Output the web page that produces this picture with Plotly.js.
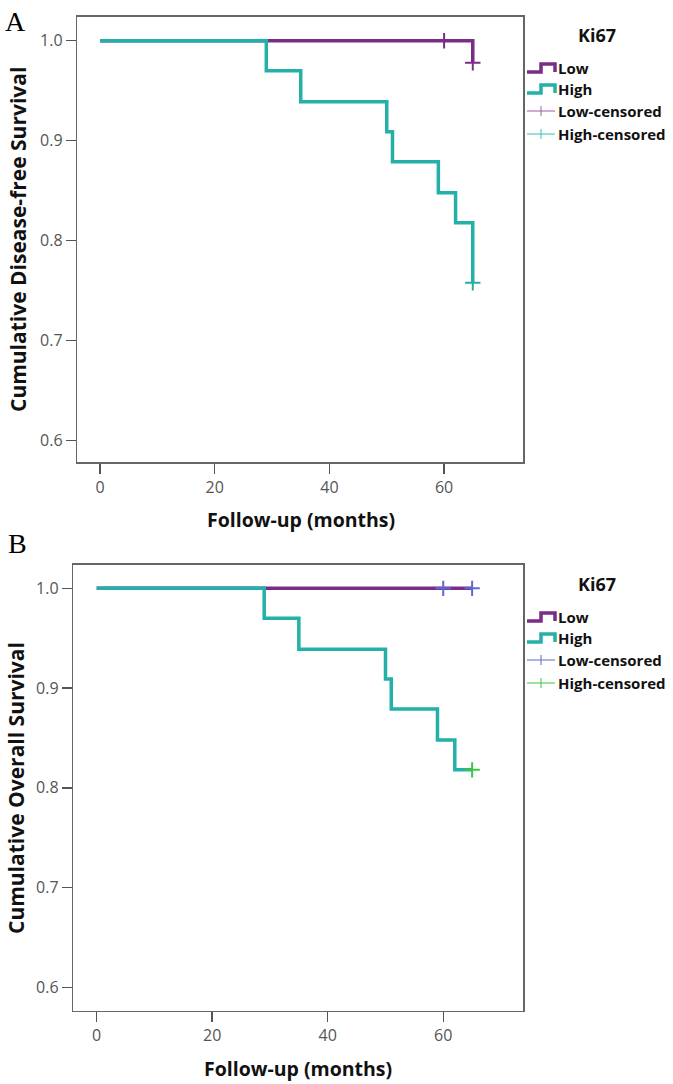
<!DOCTYPE html>
<html>
<head>
<meta charset="utf-8">
<script src="https://cdn.plot.ly/plotly-3.0.1.min.js"></script>
<style>html,body{margin:0;padding:0;background:#fff;}#chart{width:673px;height:1084px;}</style>
</head>
<body>
<div id="chart"></div>
<script>
// ---- Data ----
const groupNames = ["Low", "High"];
const legendTitle = "Ki67";
const censorNames = ["Low-censored", "High-censored"];
const xTicks = [0, 20, 40, 60];
const yTicks = [0.6, 0.7, 0.8, 0.9, 1.0];
const yTickText = ["0.6", "0.7", "0.8", "0.9", "1.0"];
const xTitle = "Follow-up (months)";
const yTitleA = "Cumulative Disease-free Survival";
const yTitleB = "Cumulative Overall Survival";
const panelLabels = ["A", "B"];

// Panel A: disease-free survival
const dfsLowTime = [0, 65];
const dfsLowSurv = [1.0, 0.978];
const dfsLowCensTime = [60, 65];
const dfsLowCensSurv = [1.0, 0.978];
const dfsHighTime = [0, 29, 35, 50, 51, 59, 62, 65];
const dfsHighSurv = [1.0, 0.970, 0.939, 0.909, 0.879, 0.848, 0.818, 0.758];
const dfsHighCensTime = [65];
const dfsHighCensSurv = [0.758];

// Panel B: overall survival
const osLowTime = [0, 65];
const osLowSurv = [1.0, 1.0];
const osLowCensTime = [60, 65];
const osLowCensSurv = [1.0, 1.0];
const osHighTime = [0, 29, 35, 50, 51, 59, 62, 65];
const osHighSurv = [1.0, 0.970, 0.939, 0.909, 0.879, 0.848, 0.818, 0.818];
const osHighCensTime = [65];
const osHighCensSurv = [0.818];

// ---- Styles ----
const W = 673, H = 1084;
const px = x => x / W;
const py = y => 1 - y / H;
const cLow = "#7b2c87";
const cHigh = "#22b0a8";
const cLowCensA = "#a05aa8";
const cHighCensA = "#3fbdb5";
const cLowCensB = "#5a6ad0";
const cHighCensB = "#3ec43e";
const tickFont = {family: "Open Sans, sans-serif", size: 16, color: "#555"};
const xTitleFont = {family: "Open Sans, sans-serif", size: 19.5, color: "#111", weight: "bold"};
const yTitleFont = {family: "Open Sans, sans-serif", size: 21, color: "#111", weight: "bold"};

function stepTrace(x, y, color, xa, ya) {
  return {x: x, y: y, type: "scatter", mode: "lines", line: {shape: "hv", color: color, width: 3.5},
    xaxis: xa, yaxis: ya, showlegend: false, hoverinfo: "skip"};
}
function censTrace(x, y, color, xa, ya) {
  return {x: x, y: y, type: "scatter", mode: "markers",
    marker: {symbol: "cross-thin", size: 11, line: {color: color, width: 2}},
    xaxis: xa, yaxis: ya, showlegend: false, hoverinfo: "skip"};
}

const data = [
  stepTrace(dfsLowTime, dfsLowSurv, cLow, "x", "y"),
  stepTrace(dfsHighTime, dfsHighSurv, cHigh, "x", "y"),
  censTrace(dfsLowCensTime, dfsLowCensSurv, cLow, "x", "y"),
  censTrace(dfsHighCensTime, dfsHighCensSurv, cHigh, "x", "y"),
  stepTrace(osLowTime, osLowSurv, cLow, "x2", "y2"),
  stepTrace(osHighTime, osHighSurv, cHigh, "x2", "y2"),
  censTrace(osLowCensTime, osLowCensSurv, cLowCensB, "x2", "y2"),
  censTrace(osHighCensTime, osHighCensSurv, cHighCensB, "x2", "y2")
];

function xAxis(domain, range, anchor) {
  return {domain: domain, range: range, anchor: anchor, tickvals: xTicks, ticktext: xTicks.map(String),
    ticks: "outside", ticklen: 10, tickwidth: 1.5, tickcolor: "#555", tickfont: tickFont,
    showline: true, mirror: true, linecolor: "#666", linewidth: 1.5, showgrid: false, zeroline: false, fixedrange: true};
}
function yAxis(domain, range, anchor) {
  return {domain: domain, range: range, anchor: anchor, tickvals: yTicks, ticktext: yTickText,
    ticks: "outside", ticklen: 10, tickwidth: 1.5, tickcolor: "#555", tickfont: tickFont,
    showline: true, mirror: true, linecolor: "#666", linewidth: 1.5, showgrid: false, zeroline: false, fixedrange: true};
}

const annotations = [];
const shapes = [];
function ann(text, x, y, font, xanchor, extra) {
  annotations.push(Object.assign({text: text, x: px(x), y: py(y), xref: "paper", yref: "paper",
    showarrow: false, xanchor: xanchor || "center", yanchor: "middle", font: font}, extra || {}));
}
// Panel labels
ann(panelLabels[0], 15, 22, {family: "Liberation Serif, serif", size: 28, color: "#000"});
ann(panelLabels[1], 17, 543, {family: "Liberation Serif, serif", size: 28, color: "#000"});
// Axis titles
ann(xTitle, 301, 520, xTitleFont);
ann(xTitle, 298, 1068, xTitleFont);
ann(yTitleA, 18, 240, yTitleFont, "center", {textangle: -90});
ann(yTitleB, 16, 788, yTitleFont, "center", {textangle: -90});

// Custom legends
function legend(top, censColors) {
  const legFont = {family: "Open Sans, sans-serif", size: 15, color: "#111", weight: "bold"};
  ann(legendTitle, 597, top, {family: "Open Sans, sans-serif", size: 18, color: "#111", weight: "bold"});
  const rows = [top + 33, top + 54, top + 76, top + 99];
  const x0 = 527, x1 = 555, xm = 541;
  [cLow, cHigh].forEach((c, i) => {
    const yb = rows[i] + 4, yt = rows[i] - 4;
    shapes.push({type: "path", xref: "paper", yref: "paper",
      path: `M ${px(x0)} ${py(yb)} L ${px(xm)} ${py(yb)} L ${px(xm)} ${py(yt)} L ${px(x1)} ${py(yt)} L ${px(x1)} ${py(yb)}`,
      line: {color: c, width: 3.5}});
    ann(groupNames[i], 556, rows[i], legFont, "left");
  });
  censColors.forEach((c, i) => {
    const y = rows[i + 2];
    shapes.push({type: "line", xref: "paper", yref: "paper", x0: px(x0), x1: px(x1), y0: py(y), y1: py(y), line: {color: c, width: 1}});
    shapes.push({type: "line", xref: "paper", yref: "paper", x0: px(xm), x1: px(xm), y0: py(y - 5), y1: py(y + 5), line: {color: c, width: 1}});
    ann(censorNames[i], 556, y, legFont, "left");
  });
}
legend(35, [cLowCensA, cHighCensA]);
legend(584, [cLowCensB, cHighCensB]);

const layout = {
  width: W, height: H, margin: {l: 0, r: 0, t: 0, b: 0},
  paper_bgcolor: "#fff", plot_bgcolor: "#fff", showlegend: false,
  xaxis: xAxis([px(77.3), px(523.3)], [-3.96, 73.81], "y"),
  yaxis: yAxis([py(462.3), py(16.7)], [0.5784, 1.024], "x"),
  xaxis2: xAxis([px(73.3), px(523.3)], [-4.05, 73.86], "y2"),
  yaxis2: yAxis([py(1010.7), py(564.5)], [0.5765, 1.0239], "x2"),
  annotations: annotations, shapes: shapes
};

Plotly.newPlot("chart", data, layout, {displayModeBar: false, staticPlot: true});
</script>
</body>
</html>
